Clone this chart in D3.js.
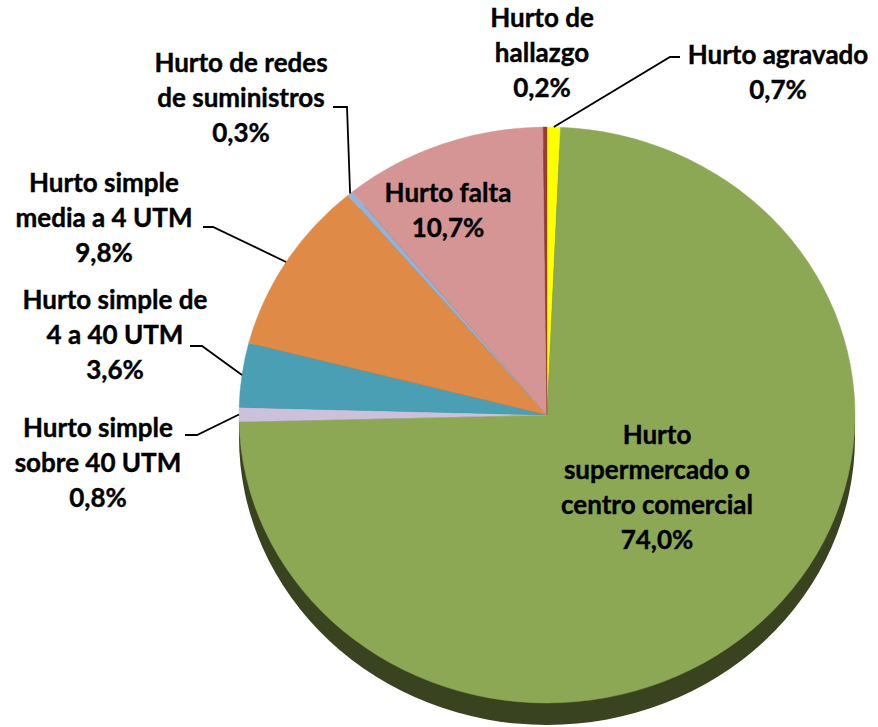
<!DOCTYPE html>
<html>
<head>
<meta charset="utf-8">
<script src="https://cdn.jsdelivr.net/npm/d3@7"></script>
<style>
  body { margin: 0; background: #fff; }
  svg { display: block; }
</style>
</head>
<body>
<div id="grafica"></div>
<script>
// datos
var categorias = ["Hurto agravado", "Hurto supermercado o centro comercial", "Hurto simple sobre 40 UTM",
                  "Hurto simple de 4 a 40 UTM", "Hurto simple media a 4 UTM", "Hurto de redes de suministros",
                  "Hurto falta", "Hurto de hallazgo"];
var valores = [0.7, 74.0, 0.8, 3.6, 9.8, 0.3, 10.7, 0.2];
var etiquetas = [
    ["Hurto agravado", "0,7%"],
    ["Hurto", "supermercado o", "centro comercial", "74,0%"],
    ["Hurto simple", "sobre 40 UTM", "0,8%"],
    ["Hurto simple de", "4 a 40 UTM", "3,6%"],
    ["Hurto simple", "media a 4 UTM", "9,8%"],
    ["Hurto de redes", "de suministros", "0,3%"],
    ["Hurto falta", "10,7%"],
    ["Hurto de", "hallazgo", "0,2%"]
];
var colores = ["#ffff00", "#8ca855", "#ccc1da", "#4a9fb5", "#e08a47", "#95b3d7", "#d59594", "#9a3a38"];

var w = 878, h = 727;
var cx = 547, cy = 415, rx = 308, ry = 288, depth = 22, R = 100;

// posiciones de las etiquetas: x centro, y primera linea base, leader (inicio, quiebre)
var posEtiquetas = [
    { x: 778, y: 64, lead: [[680, 57], [670, 57]] },
    { x: 657, y: 444 },
    { x: 98,  y: 437, lead: [[185, 435], [197, 435]] },
    { x: 115, y: 309, lead: [[190, 346], [202, 346]] },
    { x: 104, y: 192, lead: [[203, 227], [213, 227]] },
    { x: 241, y: 72,  lead: [[333, 107], [347, 107]] },
    { x: 448, y: 202 },
    { x: 542, y: 27 }
];
var interlineado = 35;

var svg = d3.select("#grafica").append("svg")
    .attr("width", w)
    .attr("height", h);

var datos = categorias.map(function(c, i) { return { cat: c, val: valores[i], i: i }; });

var pie = d3.pie().sort(null).value(function(d) { return d.val; });
var arcos = pie(datos);
var arc = d3.arc().innerRadius(0).outerRadius(R);

// profundidad (lado del pastel)
svg.append("ellipse")
    .attr("cx", cx).attr("cy", cy + depth)
    .attr("rx", rx).attr("ry", ry)
    .attr("fill", "#39431f");
svg.append("rect")
    .attr("x", cx - rx).attr("y", cy)
    .attr("width", 2 * rx).attr("height", depth)
    .attr("fill", "#39431f");

var g = svg.append("g")
    .attr("transform", "translate(" + cx + "," + cy + ") scale(" + (rx / R) + "," + (ry / R) + ")");

g.selectAll("path")
    .data(arcos)
    .enter()
    .append("path")
    .attr("d", arc)
    .attr("fill", function(d) { return colores[d.data.i]; })
    .attr("stroke", function(d) { return colores[d.data.i]; })
    .attr("stroke-width", 0.15);

// punto en el borde de la elipse para el angulo medio
function borde(d) {
    var a = (d.startAngle + d.endAngle) / 2;
    return [cx + rx * Math.sin(a), cy - ry * Math.cos(a)];
}

// lineas guia
arcos.forEach(function(d) {
    var p = posEtiquetas[d.data.i];
    if (!p.lead) return;
    var pts = p.lead.concat([borde(d)]);
    svg.append("path")
        .attr("d", d3.line()(pts))
        .attr("fill", "none")
        .attr("stroke", "#000")
        .attr("stroke-width", 1.8);
});

// etiquetas
arcos.forEach(function(d) {
    var p = posEtiquetas[d.data.i];
    var t = svg.append("text")
        .attr("text-anchor", "middle")
        .attr("font-family", "Lato, 'Open Sans', sans-serif")
        .attr("font-weight", "bold")
        .attr("font-size", "26px")
        .attr("fill", "#000")
        .attr("stroke", "#000")
        .attr("stroke-width", 0.4);
    etiquetas[d.data.i].forEach(function(linea, k) {
        t.append("tspan")
            .attr("x", p.x)
            .attr("y", p.y + k * interlineado)
            .text(linea);
    });
});
</script>
</body>
</html>
